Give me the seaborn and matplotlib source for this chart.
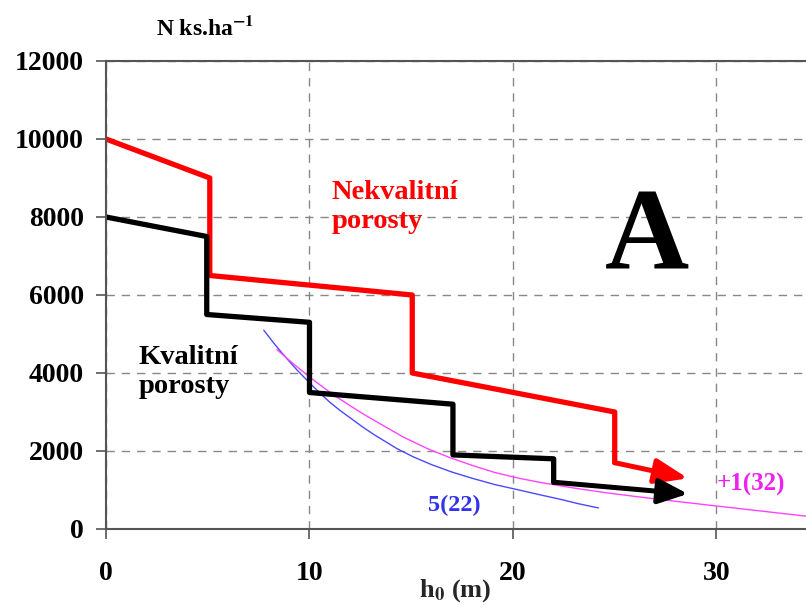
import numpy as np
import pandas as pd
import matplotlib
matplotlib.use('Agg')
import matplotlib.pyplot as plt
import seaborn as sns

sns.set_theme(style='white')
plt.rcParams['font.family'] = ['Liberation Serif', 'DejaVu Serif']
plt.rcParams['font.weight'] = 'bold'
plt.rcParams['mathtext.fontset'] = 'stix'
plt.rcParams['text.color'] = 'black'
plt.rcParams['xtick.color'] = 'black'
plt.rcParams['ytick.color'] = 'black'

# nekvalitni porosty (cervena)
red_h = [0, 5.1, 5.1, 15.05, 15.05, 25.0, 25.0, 28.6]
red_n = [10000, 9000, 6500, 6000, 4000, 3000, 1700, 1300]
# kvalitni porosty (cerna)
black_h = [0, 4.95, 4.95, 10.0, 10.0, 17.05, 17.05, 22.0, 22.0, 28.6]
black_n = [8000, 7500, 5500, 5300, 3500, 3200, 1900, 1800, 1200, 900]
# krivka 5(22)
blue_h = [7.75, 8.3, 8.8, 9.4, 10.0, 10.5, 11.0, 11.5, 12.0, 12.6, 13.2, 13.8, 14.3,
          15.1, 16.0, 17.0, 18.0, 19.1, 20.3, 21.3, 22.3, 23.2, 24.2]
blue_n = [5100, 4730, 4420, 4070, 3750, 3490, 3250, 3040, 2850, 2620, 2410, 2220, 2060,
          1850, 1650, 1460, 1300, 1140, 1000, 880, 765, 650, 540]
# krivka +1(32)
mag_h = [8.4, 8.8, 9.2, 9.6, 10.0, 10.5, 11.0, 11.5, 12.0, 12.7, 13.5, 14.6, 15.8,
         16.9, 18.0, 19.1, 20.3, 21.6, 23.0, 24.5, 26.0, 28.0, 30.0, 32.2, 34.4]
mag_n = [4600, 4420, 4240, 4070, 3900, 3700, 3510, 3330, 3160, 2930, 2690, 2360, 2060,
         1830, 1630, 1450, 1300, 1170, 1050, 935, 835, 710, 590, 460, 330]

xticks = [0, 10, 20, 30]
yticks = [0, 2000, 4000, 6000, 8000, 10000, 12000]

fig = plt.figure(figsize=(8.06, 6.05), dpi=100)
ax = fig.add_axes([106 / 806, 76 / 605, 1 - 106 / 806, 468 / 605])

curves = pd.DataFrame({'h': blue_h, 'N': blue_n})
sns.lineplot(data=curves, x='h', y='N', sort=False, estimator=None,
             color='#4a4aff', lw=1.0, ax=ax)
curves = pd.DataFrame({'h': mag_h, 'N': mag_n})
sns.lineplot(data=curves, x='h', y='N', sort=False, estimator=None,
             color='#ff44ff', lw=1.0, ax=ax)

red = pd.DataFrame({'h': red_h[:-1], 'N': red_n[:-1]})
sns.lineplot(data=red, x='h', y='N', sort=False, estimator=None,
             color='red', lw=3.8, ax=ax)
black = pd.DataFrame({'h': black_h[:-1], 'N': black_n[:-1]})
sns.lineplot(data=black, x='h', y='N', sort=False, estimator=None,
             color='black', lw=3.8, ax=ax)

# sipky na konci
for hh, nn, c, hl in [(red_h, red_n, 'red', 1.0), (black_h, black_n, 'black', 0.9)]:
    ax.annotate('', xy=(hh[-1], nn[-1]), xytext=(hh[-2], nn[-2]),
                arrowprops=dict(arrowstyle=f'-|>,head_length={hl},head_width=0.38',
                                mutation_scale=20, color=c, lw=3.6,
                                shrinkA=0, shrinkB=0))

ax.set_xlim(0, 34.4)
ax.set_ylim(0, 12000)
ax.set_xticks(xticks)
ax.set_yticks(yticks)
ax.tick_params(axis='both', labelsize=20, length=7, width=1.2, color='#555555',
               labelcolor='black', direction='out', bottom=True, left=True)
ax.tick_params(axis='x', pad=16)
ax.tick_params(axis='y', pad=9)
for lab in ax.get_xticklabels() + ax.get_yticklabels():
    lab.set_fontweight('bold')

ax.grid(True, ls=(0, (6, 5)), color='#888888', lw=1.0)
ax.spines['right'].set_visible(False)
for s in ['left', 'bottom', 'top']:
    ax.spines[s].set_color('#555555')
    ax.spines[s].set_linewidth(1.5)

ax.set_xlabel(r'h$_{\mathbf{0}}$ (m)', fontsize=19, fontweight='bold', labelpad=2)
ax.xaxis.set_label_coords((455 - 106) / 700, -0.103)
ax.set_ylabel('')
fig.text(205 / 806, 1 - 28 / 605, r'N ks.ha$^{\mathbf{-1}}$', fontsize=17,
         fontweight='bold', ha='center', va='center')

ax.text(11.1, 8250, 'Nekvalitní\nporosty', color='red', fontsize=20.5,
        fontweight='bold', ha='left', va='center', linespacing=1.2)
ax.text(1.6, 4020, 'Kvalitní\nporosty', color='black', fontsize=20.5,
        fontweight='bold', ha='left', va='center', linespacing=1.2)
ax.text(26.6, 7400, 'A', color='black', fontsize=84, fontweight='bold',
        ha='center', va='center')
ax.text(17.1, 615, '5(22)', color='#3333ee', fontsize=17.5, fontweight='bold',
        ha='center', va='center')
ax.text(31.7, 1130, '+1(32)', color='#ee22ee', fontsize=18, fontweight='bold',
        ha='center', va='center')

fig.savefig('out.png', dpi=100)
